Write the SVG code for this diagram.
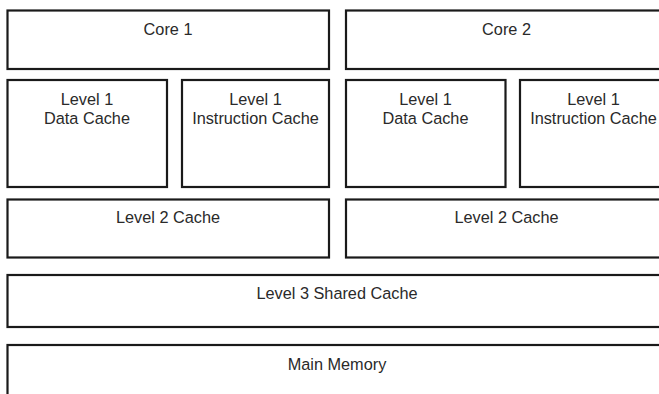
<svg xmlns="http://www.w3.org/2000/svg" width="659" height="394" viewBox="0 0 659 394">
<style>
.box{fill:#fff;stroke:#1a1a1a;stroke-width:2.2}
.t{font-family:"Liberation Sans",Arial,sans-serif;font-size:16.3px;fill:#2a2a2a;text-anchor:middle}
</style>
<rect width="659" height="394" fill="#fff"/>
<g id="core1"><rect class="box" x="7.5" y="10.5" width="321.5" height="58.5"/><text class="t" x="168" y="35">Core 1</text></g>
<g id="core2"><rect class="box" x="346" y="10.5" width="321" height="58.5"/><text class="t" x="506.5" y="35">Core 2</text></g>
<g id="l1d1"><rect class="box" x="7.5" y="80" width="159.5" height="107"/><text class="t" x="87" y="105">Level 1</text><text class="t" x="87" y="124">Data Cache</text></g>
<g id="l1i1"><rect class="box" x="182" y="80" width="147" height="107"/><text class="t" x="255.5" y="105">Level 1</text><text class="t" x="255.5" y="124">Instruction Cache</text></g>
<g id="l1d2"><rect class="box" x="346" y="80" width="159.5" height="107"/><text class="t" x="425.5" y="105">Level 1</text><text class="t" x="425.5" y="124">Data Cache</text></g>
<g id="l1i2"><rect class="box" x="520" y="80" width="147" height="107"/><text class="t" x="593.5" y="105">Level 1</text><text class="t" x="593.5" y="124">Instruction Cache</text></g>
<g id="l2a"><rect class="box" x="7.5" y="199.5" width="321.5" height="58"/><text class="t" x="168" y="223.3">Level 2 Cache</text></g>
<g id="l2b"><rect class="box" x="346" y="199.5" width="321" height="58"/><text class="t" x="506.5" y="223.3">Level 2 Cache</text></g>
<g id="l3"><rect class="box" x="7.5" y="275" width="660" height="52"/><text class="t" x="337" y="299.3">Level 3 Shared Cache</text></g>
<g id="mem"><rect class="box" x="7.5" y="345" width="660" height="60"/><text class="t" x="337" y="370">Main Memory</text></g>
<g id="connectors"/>
</svg>
